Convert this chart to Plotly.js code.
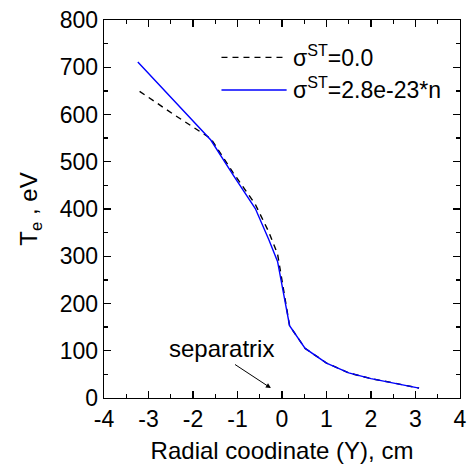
<!DOCTYPE html>
<html>
<head>
<meta charset="utf-8">
<script src="https://cdn.plot.ly/plotly-3.0.1.min.js"></script>
<style>html,body{margin:0;padding:0;background:#fff;}#chart{width:467px;height:466px;}</style>
</head>
<body>
<div id="chart"></div>
<script>
// Data
const xDashed = [-3.2, -2.4, -1.6, -1.1, -0.6, -0.3, -0.1, 0.17, 0.52, 1.0, 1.5, 2.0, 2.5, 3.08];
const teDashed = [649, 598, 549, 477, 410, 352, 305, 153, 105, 74, 53, 41, 32, 21];
const xSolid = [-3.24, -1.6, -1.1, -0.6, -0.3, -0.1, 0.17, 0.52, 1.0, 1.5, 2.0, 2.5, 3.08];
const teSolid = [711, 546, 472, 401, 336, 289, 153, 105, 74, 53, 41, 32, 21];
const seriesNames = ["σ<sup>ST</sup>=0.0", "σ<sup>ST</sup>=2.8e-23*n"];
const xTicks = [-4, -3, -2, -1, 0, 1, 2, 3, 4];
const yTicks = [0, 100, 200, 300, 400, 500, 600, 700, 800];

const FONT = "Liberation Sans, Arial, sans-serif";

const traces = [
  {x: xDashed, y: teDashed, mode: "lines", name: seriesNames[0],
   line: {color: "#000000", width: 1.4, dash: "6px,5px"}, showlegend: false},
  {x: xSolid, y: teSolid, mode: "lines", name: seriesNames[1],
   line: {color: "#0000ff", width: 1.4}, showlegend: false}
];

const axisCommon = {
  showgrid: false, zeroline: false, showline: true, linecolor: "#000", linewidth: 1.3,
  mirror: "ticks", ticks: "inside", ticklen: 7, tickwidth: 1.3, tickcolor: "#000",
  tickfont: {family: FONT, size: 23, color: "#000"},
  minor: {ticks: "inside", ticklen: 4, tickwidth: 1.3, tickcolor: "#000", showgrid: false}
};

const layout = {
  width: 467, height: 466,
  margin: {l: 104, r: 7, t: 20, b: 68},
  paper_bgcolor: "#fff", plot_bgcolor: "#fff",
  font: {family: FONT, color: "#000"},
  xaxis: Object.assign({}, axisCommon, {
    range: [-4, 4], tickvals: xTicks, ticktext: xTicks.map(String),
    minor: Object.assign({}, axisCommon.minor, {dtick: 0.5, tick0: 0}),
    title: {text: "Radial coodinate (Y), cm", font: {family: FONT, size: 24, color: "#000"}, standoff: 11}
  }),
  yaxis: Object.assign({}, axisCommon, {
    range: [0, 800], tickvals: yTicks, ticktext: yTicks.map(String),
    minor: Object.assign({}, axisCommon.minor, {dtick: 50, tick0: 0}),
    title: {text: "T<sub>e</sub> , eV", font: {family: FONT, size: 24, color: "#000"}, standoff: 15}
  }),
  showlegend: false,
  shapes: [
    {type: "line", xref: "paper", yref: "paper", x0: 0.33, x1: 0.513, y0: 0.901, y1: 0.901,
     line: {color: "#000", width: 1.4, dash: "6px,5px"}},
    {type: "line", xref: "paper", yref: "paper", x0: 0.33, x1: 0.513, y0: 0.815, y1: 0.815,
     line: {color: "#0000ff", width: 1.4}}
  ],
  annotations: [
    {xref: "paper", yref: "paper", x: 0.524, y: 0.905, xanchor: "left", yanchor: "middle",
     text: seriesNames[0], showarrow: false, font: {family: FONT, size: 23, color: "#000"}},
    {xref: "paper", yref: "paper", x: 0.524, y: 0.819, xanchor: "left", yanchor: "middle",
     text: seriesNames[1], showarrow: false, font: {family: FONT, size: 23, color: "#000"}},
    {x: -1.35, y: 104, xref: "x", yref: "y", text: "separatrix", showarrow: false,
     xanchor: "center", yanchor: "middle", font: {family: FONT, size: 24, color: "#000"}},
    {x: -0.25, y: 21, xref: "x", yref: "y", ax: -1.09, ay: 73, axref: "x", ayref: "y",
     text: "", showarrow: true, arrowhead: 2, arrowsize: 1, arrowwidth: 1, arrowcolor: "#000"}
  ]
};

Plotly.newPlot("chart", traces, layout, {displayModeBar: false, staticPlot: true});
</script>
</body>
</html>
